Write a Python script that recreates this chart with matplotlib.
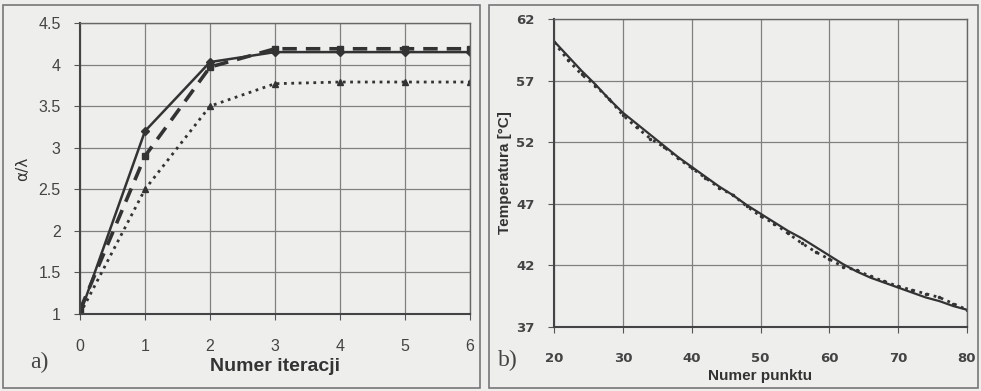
import matplotlib.pyplot as plt
import matplotlib.patches as patches
import numpy as np

# panel a) - alpha/lambda vs iteration number
iteracje = [0, 1, 2, 3, 4, 5, 6]
seria_ciagla = [1.0, 3.2, 4.03, 4.15, 4.15, 4.15, 4.15]
seria_kreski = [1.05, 2.9, 3.97, 4.19, 4.19, 4.19, 4.19]
seria_kropki = [1.0, 2.5, 3.5, 3.77, 3.79, 3.79, 3.79]

# panel b) - temperature along the points
punkty = [20, 22, 24, 26, 28, 30, 32, 34, 36, 38, 40, 42, 44, 46, 48, 50,
          52, 54, 56, 58, 60, 62, 64, 66, 68, 70, 72, 74, 76, 78, 80]
temp_model = [60.2, 59.0, 57.8, 56.7, 55.5, 54.4, 53.5, 52.6, 51.7, 50.8, 50.0,
              49.2, 48.4, 47.7, 46.9, 46.2, 45.5, 44.8, 44.2, 43.5, 42.8, 42.1,
              41.5, 41.0, 40.6, 40.2, 39.8, 39.4, 39.1, 38.7, 38.4]
temp_pomiar = [60.1, 58.7, 57.5, 56.6, 55.5, 54.2, 53.2, 52.3, 51.6, 50.7, 49.9,
               49.1, 48.3, 47.7, 46.8, 46.0, 45.4, 44.6, 43.8, 43.1, 42.5, 41.9,
               41.6, 41.1, 40.7, 40.3, 40.0, 39.7, 39.4, 38.9, 38.4]

tlo = '#eeeeec'
ciemny = '#333333'
siatka = '#808080'

fig = plt.figure(figsize=(9.81, 3.91), dpi=100)
fig.patch.set_facecolor(tlo)

# frames around both panels
for x0, x1 in [(3, 480), (489, 978)]:
    fig.patches.append(patches.Rectangle((x0 / 981, 3 / 391), (x1 - x0) / 981, 383 / 391,
                                         transform=fig.transFigure, fill=False,
                                         edgecolor='#777777', lw=1.2))


def styl_osi(ax):
    ax.set_facecolor(tlo)
    ax.grid(True, color=siatka, lw=0.9)
    ax.set_axisbelow(True)
    for s in ax.spines.values():
        s.set_color('#666666')
        s.set_linewidth(1.0)
    ax.spines['left'].set_color('#444444')
    ax.spines['bottom'].set_color('#444444')
    ax.spines['left'].set_linewidth(1.5)
    ax.spines['bottom'].set_linewidth(1.5)
    ax.tick_params(direction='out', length=4, color='#555555', colors='#444444')


# ---- a)
ax1 = fig.add_axes([80 / 981, 1 - 314 / 391, 390 / 981, 291 / 391])
styl_osi(ax1)
ax1.plot(iteracje, seria_ciagla, '-', color=ciemny, lw=1.8, marker='D', ms=4)
ax1.plot(iteracje, seria_kreski, '--', color=ciemny, lw=2.6, marker='s', ms=4,
         dashes=(4, 2.5))
ax1.plot(iteracje, seria_kropki, ':', color=ciemny, lw=2.0, marker='^', ms=4)
ax1.set_xlim(0, 6)
ax1.set_ylim(1, 4.5)
ax1.set_xticks(iteracje)
ax1.set_yticks([1, 1.5, 2, 2.5, 3, 3.5, 4, 4.5])
ax1.set_yticklabels(['1', '1.5', '2', '2.5', '3', '3.5', '4', '4.5'])
for lab in ax1.get_xticklabels() + ax1.get_yticklabels():
    lab.set_fontsize(11.5)
    lab.set_family('Liberation Sans')
ax1.tick_params(axis='x', pad=14)
ax1.tick_params(axis='y', pad=10)
ax1.set_xlabel('Numer iteracji', fontsize=14, fontweight='bold',
               family='Liberation Sans', color='#333333', labelpad=3)
ax1.set_ylabel('α/λ', fontsize=11, family='DejaVu Sans', color='#333333', labelpad=6)
fig.text(30 / 981, 1 - 362 / 391, 'a)', fontsize=17, family='Liberation Serif',
         color='#444444', va='center')

# ---- b)
ax2 = fig.add_axes([554 / 981, 1 - 327 / 391, 413 / 981, 308 / 391])
styl_osi(ax2)
ax2.plot(punkty, temp_pomiar, ':', color=ciemny, lw=2.0, marker='.', ms=3)
ax2.plot(punkty, temp_model, '-', color=ciemny, lw=1.6)
ax2.set_xlim(20, 80)
ax2.set_ylim(37, 62)
ax2.set_xticks([20, 30, 40, 50, 60, 70, 80])
ax2.set_yticks([37, 42, 47, 52, 57, 62])
for lab in ax2.get_xticklabels() + ax2.get_yticklabels():
    lab.set_fontsize(9.5)
    lab.set_fontweight('bold')
    lab.set_family('Liberation Sans Narrow')
ax2.tick_params(axis='x', pad=14)
ax2.tick_params(axis='y', pad=10)
ax2.set_xlabel('Numer punktu', fontsize=11, fontweight='bold',
               family='Liberation Sans', color='#333333', labelpad=3)
ax2.set_ylabel('Temperatura [°C]', fontsize=11, fontweight='bold',
               family='Liberation Sans', color='#333333', labelpad=3)
fig.text(498 / 981, 1 - 360 / 391, 'b)', fontsize=17, family='Liberation Serif',
         color='#444444', va='center')

fig.savefig('out.png', dpi=100, facecolor=fig.get_facecolor())
